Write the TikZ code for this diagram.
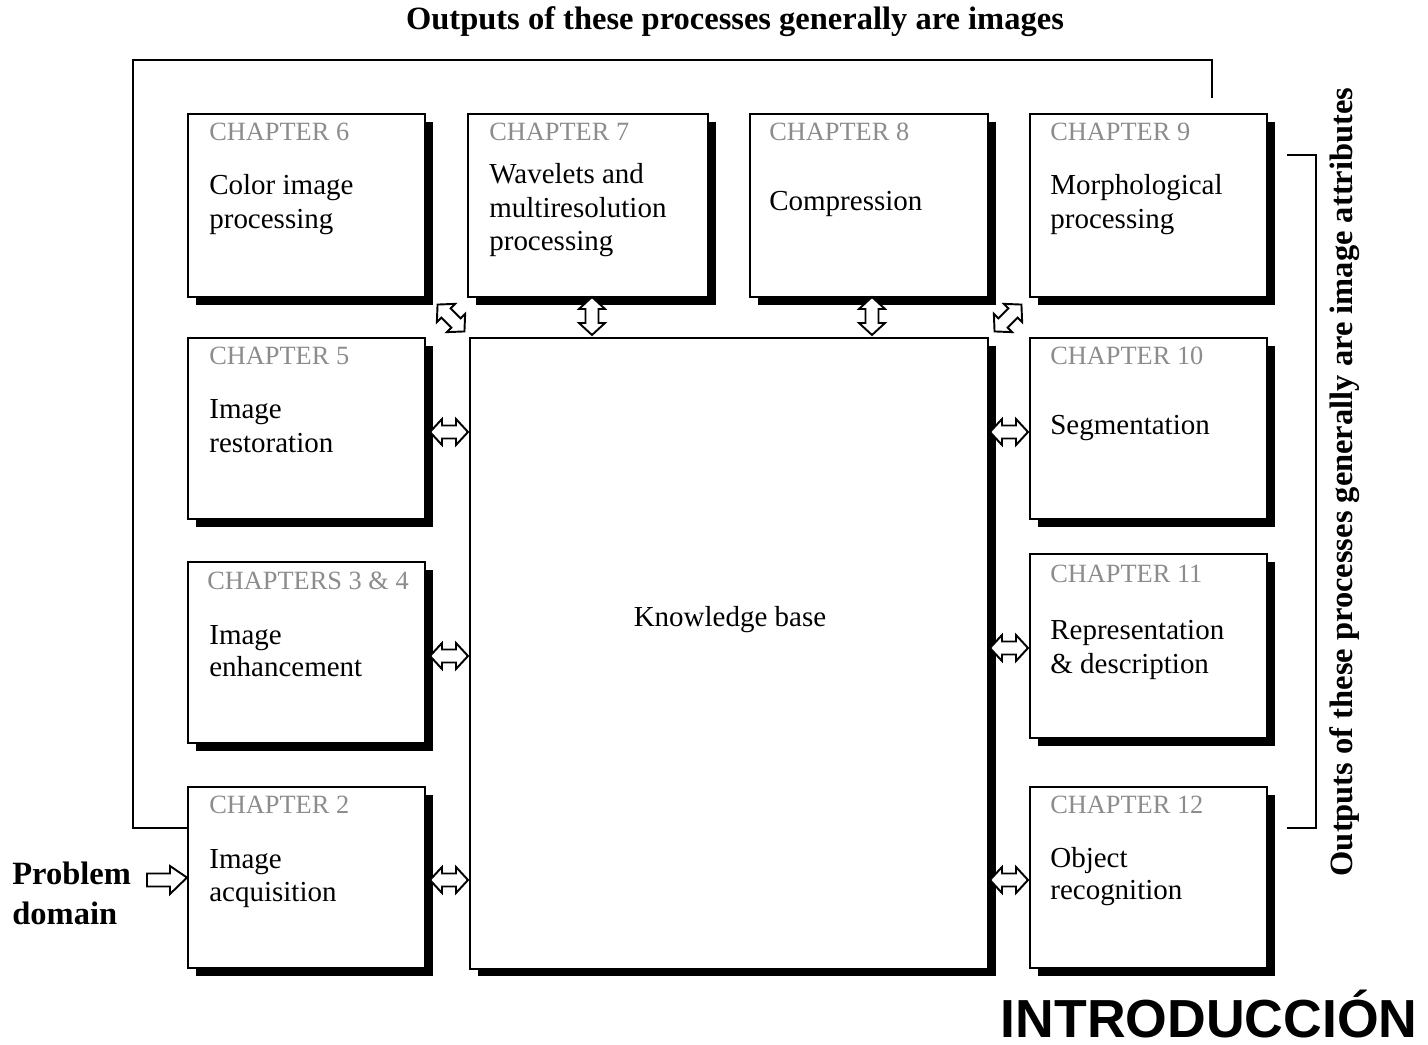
\documentclass[tikz,border=0pt]{standalone}
\usepackage{fontspec}
\setmainfont{Liberation Serif}
\newfontfamily\headfont{Liberation Sans}
\usetikzlibrary{shadows}
\definecolor{labelgray}{HTML}{8C8C8C}
\tikzset{
  chbox/.style={draw=black, line width=1.2pt, fill=white, anchor=north west,
    inner sep=0pt, minimum width=4.74cm, minimum height=3.62cm,
    general shadow={fill=black, shadow xshift=0.16cm, shadow yshift=-0.15cm}},
  chlabel/.style={anchor=base west, inner sep=0pt, text=labelgray,
    font=\fontsize{15}{18}\selectfont},
  chtext/.style={anchor=base west, inner sep=0pt,
    font=\fontsize{16.5}{19}\selectfont},
  bigbold/.style={inner sep=0pt, font=\fontsize{18.5}{22}\selectfont\bfseries},
  link/.style={line width=1.2pt},
  pics/dbl/.style={code={
    \draw[line width=1.1pt, fill=white, line join=miter]
      (-19,0) -- (-7,-13) -- (-7,-6.5) -- (7,-6.5) -- (7,-13) -- (19,0)
      -- (7,13) -- (7,6.5) -- (-7,6.5) -- (-7,13) -- cycle;}},
}
\begin{document}
\begin{tikzpicture}[x=0.02cm, y=-0.02cm]
\useasboundingbox (0,0) rectangle (1428,1045);

% processing blocks
\node[chbox, minimum height=3.66cm] (c6) at (187,113) {};
\node[chbox, minimum height=3.66cm, minimum width=4.8cm] (c7) at (467,113) {};
\node[chbox, minimum height=3.66cm, minimum width=4.76cm] (c8) at (749,113) {};
\node[chbox, minimum height=3.66cm] (c9) at (1029,113) {};
\node[chbox] (c5) at (187,337) {};
\node[chbox] (c34) at (187,561) {};
\node[chbox] (c2) at (187,786) {};
\node[chbox] (c10) at (1029,337) {};
\node[chbox, minimum height=3.68cm] (c11) at (1029,553) {};
\node[chbox] (c12) at (1029,786) {};
\node[chbox, minimum width=10.36cm, minimum height=12.62cm] (kb) at (469,337) {};

% block captions
\node[chlabel] (l6) at (209,140) {CHAPTER 6};
\node[chtext] (t6a) at (209,194) {Color image};
\node[chtext] (t6b) at (209,228) {processing};

\node[chlabel] (l7) at (489,140) {CHAPTER 7};
\node[chtext] (t7a) at (489,183) {Wavelets and};
\node[chtext] (t7b) at (489,217) {multiresolution};
\node[chtext] (t7c) at (489,250) {processing};

\node[chlabel] (l8) at (769,140) {CHAPTER 8};
\node[chtext] (t8a) at (769,210) {Compression};

\node[chlabel] (l9) at (1050,140) {CHAPTER 9};
\node[chtext] (t9a) at (1050,194) {Morphological};
\node[chtext] (t9b) at (1050,228) {processing};

\node[chlabel] (l5) at (209,364) {CHAPTER 5};
\node[chtext] (t5a) at (209,418) {Image};
\node[chtext] (t5b) at (209,452) {restoration};

\node[chlabel] (l34) at (207,589) {CHAPTERS 3 \& 4};
\node[chtext] (t34a) at (209,644) {Image};
\node[chtext] (t34b) at (209,676) {enhancement};

\node[chlabel] (l2) at (209,813) {CHAPTER 2};
\node[chtext] (t2a) at (209,868) {Image};
\node[chtext] (t2b) at (209,901) {acquisition};

\node[chlabel] (l10) at (1050,364) {CHAPTER 10};
\node[chtext] (t10a) at (1050,434) {Segmentation};

\node[chlabel] (l11) at (1050,582) {CHAPTER 11};
\node[chtext] (t11a) at (1050,639) {Representation};
\node[chtext] (t11b) at (1050,673) {\& description};

\node[chlabel] (l12) at (1050,813) {CHAPTER 12};
\node[chtext] (t12a) at (1050,867) {Object};
\node[chtext] (t12b) at (1050,899) {recognition};

\node[inner sep=0pt, font=\fontsize{16.5}{19}\selectfont] (kbt) at (730,620) {Knowledge base};

% two-way exchanges with the knowledge base
\pic at (449,432) {dbl};
\pic at (449,656) {dbl};
\pic at (449,880) {dbl};
\pic at (1009,432) {dbl};
\pic at (1009,648) {dbl};
\pic at (1009,880) {dbl};
\pic[rotate=90] at (592,316) {dbl};
\pic[rotate=90] at (872,316) {dbl};
\pic[rotate=-45] at (451,318) {dbl};
\pic[rotate=45] at (1008,318) {dbl};

% problem domain input
\node[bigbold, anchor=base west] (pd1) at (12,884) {Problem};
\node[bigbold, anchor=base west] (pd2) at (12,924) {domain};
\draw[line width=1.1pt, fill=white, line join=miter]
  (147,873.5) -- (170,873.5) -- (170,866) -- (c2.west |- c2.west) -- (170,894)
  -- (170,886.5) -- (147,886.5) -- cycle;

% image outputs feedback line
\coordinate (fbstart) at (1212,98);
\coordinate (fbtop) at (133,60);
\coordinate (fbcorner) at (133,828);
\coordinate (fbend) at (187,828);
\draw[link] (fbstart) |- (fbtop) -- (fbcorner) -- (fbend);
\node[bigbold] (toptitle) at (735,22) {Outputs of these processes generally are images};

% attribute outputs bracket
\coordinate (br1) at (1287,155);
\coordinate (br2) at (1316,155);
\coordinate (br3) at (1316,828);
\coordinate (br4) at (1287,828);
\draw[link] (br1) -- (br2) -- (br3) -- (br4);
\node[bigbold, rotate=90] (sidetitle) at (1345,482) {Outputs of these processes generally are image attributes};

% heading
\node[inner sep=0pt, anchor=base east, font=\headfont\fontsize{30.5}{34}\selectfont\bfseries] (intro) at (1418,1037) {INTRODUCCIÓN};
\end{tikzpicture}
\end{document}
